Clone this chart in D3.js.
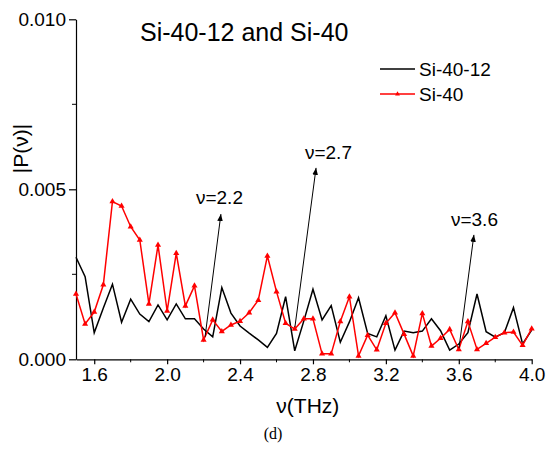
<!DOCTYPE html>
<html>
<head>
<meta charset="utf-8">
<script src="https://cdn.jsdelivr.net/npm/d3@7"></script>
<style>
  html, body { margin: 0; padding: 0; background: #fff; }
  svg text { font-family: "Liberation Sans", Arial, sans-serif; fill: #000; }
</style>
</head>
<body>
<svg id="chart" width="547" height="458"></svg>
<script>
// Frequency grid (THz), 0.05 THz steps from 1.5 to 4.0
const freq = [
  1.50, 1.55, 1.60, 1.65, 1.70, 1.75, 1.80, 1.85, 1.90, 1.95,
  2.00, 2.05, 2.10, 2.15, 2.20, 2.25, 2.30, 2.35, 2.40, 2.45,
  2.50, 2.55, 2.60, 2.65, 2.70, 2.75, 2.80, 2.85, 2.90, 2.95,
  3.00, 3.05, 3.10, 3.15, 3.20, 3.25, 3.30, 3.35, 3.40, 3.45,
  3.50, 3.55, 3.60, 3.65, 3.70, 3.75, 3.80, 3.85, 3.90, 3.95, 4.00
];

// |P(v)| spectra, in units of 1e-3
const si4012 = [
  3.00, 2.43, 0.78, 1.51, 2.21, 1.09, 1.77, 1.33, 1.11, 1.60,
  1.16, 1.63, 1.19, 1.19, 0.89, 0.66, 2.11, 1.36, 0.98, 0.77,
  0.57, 0.35, 0.76, 1.84, 0.25, 1.13, 2.06, 1.16, 1.58, 0.50,
  1.10, 1.81, 0.76, 0.66, 1.28, 0.27, 0.83, 0.78, 0.83, 1.19,
  0.84, 0.27, 0.45, 0.78, 1.92, 0.81, 0.65, 0.78, 1.52, 0.45, 0.86
];
const si40 = [
  1.92, 1.04, 1.39, 2.19, 4.64, 4.51, 3.90, 3.51, 1.63, 3.36,
  1.42, 3.12, 1.57, 2.16, 0.57, 1.16, 0.82, 1.01, 1.12, 1.37,
  1.74, 3.04, 1.99, 1.06, 0.89, 1.19, 1.19, 0.16, 0.16, 1.11,
  1.84, 0.10, 0.71, 0.28, 1.06, 1.37, 0.74, 0.10, 1.35, 0.39,
  0.62, 0.88, 0.29, 1.11, 0.29, 0.47, 0.65, 0.78, 0.80, 0.41, 0.90
];

const seriesNames = ["Si-40-12", "Si-40"];
const seriesColors = ["#000000", "#ff0000"];
const titleText = "Si-40-12 and Si-40";

const xTicks = [1.6, 2.0, 2.4, 2.8, 3.2, 3.6, 4.0];
const xMinorTicks = [1.8, 2.2, 2.6, 3.0, 3.4, 3.8];
const yTicks = [0.000, 0.005, 0.010];
const yMinorTicks = [0.0025, 0.0075];

// Peak call-outs: label, label anchor, arrow tail and arrow head, all as (freq, |P|)
const calloutLabels = ["\u03bd=2.2", "\u03bd=2.7", "\u03bd=3.6"];
const calloutTextAt = [[2.158, 0.00457], [2.756, 0.00589], [3.557, 0.00392]];
const calloutTail = [[2.208, 0.00066], [2.701, 0.00095], [3.601, 0.00033]];
const calloutHead = [[2.295, 0.00427], [2.817, 0.00563], [3.683, 0.00366]];

const svg = d3.select("#chart");

const x = d3.scaleLinear().domain([1.5, 4.0]).range([76, 531.7]);
const y = d3.scaleLinear().domain([0, 0.010]).range([359.3, 19.3]);

// Axes
const xAxis = svg.append("g").attr("transform", `translate(0,${y(0)})`)
  .call(d3.axisBottom(x).tickValues(xTicks).tickFormat(d3.format(".1f"))
    .tickSize(5).tickSizeOuter(0).tickPadding(3));
xAxis.append("g").selectAll("line").data(xMinorTicks).join("line")
  .attr("x1", d => x(d)).attr("x2", d => x(d)).attr("y1", 0).attr("y2", 3)
  .attr("stroke", "#000");

const yAxis = svg.append("g").attr("transform", `translate(${x(1.5)},0)`)
  .call(d3.axisLeft(y).tickValues(yTicks).tickFormat(d3.format(".3f"))
    .tickSize(7).tickSizeOuter(0).tickPadding(3));
yAxis.append("g").selectAll("line").data(yMinorTicks).join("line")
  .attr("x1", 0).attr("x2", -4).attr("y1", d => y(d)).attr("y2", d => y(d))
  .attr("stroke", "#000");

svg.selectAll(".domain, .tick line").attr("stroke", "#000").attr("stroke-width", 1.2);
svg.selectAll(".tick text").style("font-size", "19px")
  .style("font-family", "'Liberation Sans', Arial, sans-serif");

// Axis titles
svg.append("text")
  .attr("x", (x(1.5) + x(4.0)) / 2 + 4).attr("y", 413)
  .attr("text-anchor", "middle").style("font-size", "21px")
  .text("\u03bd(THz)");
svg.append("text")
  .attr("transform", `translate(28,${y(0.0062)}) rotate(-90)`)
  .attr("text-anchor", "middle").style("font-size", "21px")
  .text("|P(\u03bd)|");

// Series
const rows = freq.map((f, i) => ({ f, a: si4012[i] / 1000, b: si40[i] / 1000 }));
const lineA = d3.line().x(d => x(d.f)).y(d => y(d.a));
const lineB = d3.line().x(d => x(d.f)).y(d => y(d.b));

svg.append("path").datum(rows).attr("d", lineA)
  .attr("fill", "none").attr("stroke", seriesColors[0]).attr("stroke-width", 1.5)
  .attr("stroke-linejoin", "miter");
svg.append("path").datum(rows).attr("d", lineB)
  .attr("fill", "none").attr("stroke", seriesColors[1]).attr("stroke-width", 1.5);

const tri = d3.symbol().type(d3.symbolTriangle).size(16);
svg.append("g").selectAll("path").data(rows).join("path")
  .attr("d", tri)
  .attr("transform", d => `translate(${x(d.f)},${y(d.b)})`)
  .attr("fill", seriesColors[1]);

// Title
svg.append("text").attr("x", 140).attr("y", 41)
  .style("font-size", "25px").text(titleText);

// Legend
const legend = svg.append("g").attr("transform", "translate(380,0)");
seriesNames.forEach((name, i) => {
  const ly = 69 + i * 25;
  legend.append("line").attr("x1", 0).attr("x2", 35).attr("y1", ly).attr("y2", ly)
    .attr("stroke", seriesColors[i]).attr("stroke-width", 1.5);
  if (i === 1) {
    legend.append("path").attr("d", d3.symbol().type(d3.symbolTriangle).size(10))
      .attr("transform", `translate(17.5,${ly})`).attr("fill", seriesColors[i]);
  }
  legend.append("text").attr("x", 39).attr("y", ly + 7)
    .style("font-size", "19px").text(name);
});

// Arrow call-outs
svg.append("defs").append("marker")
  .attr("id", "head").attr("viewBox", "0 0 10 10")
  .attr("refX", 10).attr("refY", 5)
  .attr("markerWidth", 7).attr("markerHeight", 7)
  .attr("markerUnits", "userSpaceOnUse")
  .attr("orient", "auto")
  .append("path").attr("d", "M0,1 L10,5 L0,9 Z").attr("fill", "#000");

calloutLabels.forEach((label, i) => {
  const [tf, tp] = calloutTail[i];
  const [hf, hp] = calloutHead[i];
  const [lf, lp] = calloutTextAt[i];
  svg.append("line")
    .attr("x1", x(tf)).attr("y1", y(tp))
    .attr("x2", x(hf)).attr("y2", y(hp))
    .attr("stroke", "#000").attr("stroke-width", 1)
    .attr("marker-end", "url(#head)");
  svg.append("text")
    .attr("x", x(lf)).attr("y", y(lp))
    .style("font-size", "19px").text(label);
});

// Panel tag
svg.append("text").attr("x", 273).attr("y", 439)
  .attr("text-anchor", "middle")
  .style("font-family", "'Liberation Serif', 'Times New Roman', serif")
  .style("font-size", "16px").text("(d)");
</script>
</body>
</html>
